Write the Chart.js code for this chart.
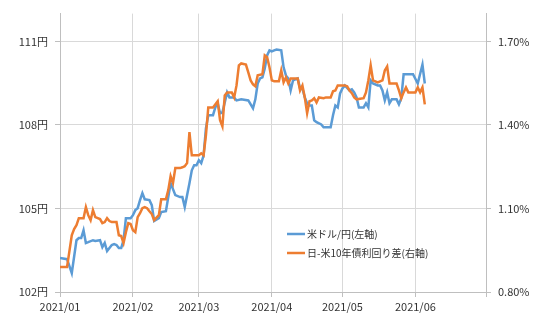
<!DOCTYPE html>
<html>
<head>
<meta charset="utf-8">
<script src="https://cdn.jsdelivr.net/npm/chart.js@4.4.1/dist/chart.umd.min.js"></script>
<style>
    html, body { margin: 0; padding: 0; background: #fff; }
</style>
</head>
<body>
<canvas id="chart" width="540" height="324"></canvas>
<script>
// x values are days counted from 2021/01/01
const usdDays = [0, 3, 5, 7, 8, 9, 10, 11, 12, 14, 15, 17, 18, 19, 20, 22, 23, 24, 25, 26, 27, 28, 30, 31, 32, 33, 34, 35, 36, 38, 39, 40, 42, 43, 45, 47, 49, 51, 52, 53, 55, 56, 57, 58, 59, 60, 61, 62, 63, 65, 66, 67, 68, 69, 71, 72, 74, 75, 77, 80, 82, 83, 84, 85, 86, 87, 88, 89, 90, 91, 92, 94, 95, 96, 97, 98, 99, 101, 102, 103, 104, 105, 106, 107, 108, 109, 111, 112, 115, 116, 117, 118, 119, 120, 121, 123, 124, 125, 126, 127, 129, 130, 131, 132, 133, 135, 136, 137, 138, 139, 140, 141, 143, 144, 145, 146, 149, 150, 152, 154, 155];
const usdValues = [103.22, 103.18, 102.68, 103.86, 103.94, 103.94, 104.22, 103.76, 103.79, 103.86, 103.83, 103.86, 103.61, 103.76, 103.47, 103.69, 103.72, 103.69, 103.58, 103.58, 103.86, 104.65, 104.65, 104.76, 104.94, 105.01, 105.3, 105.55, 105.33, 105.3, 105.12, 104.55, 104.65, 104.87, 104.9, 105.91, 105.48, 105.41, 105.41, 105.05, 105.91, 106.37, 106.55, 106.55, 106.73, 106.63, 106.9, 107.88, 108.35, 108.35, 108.63, 108.78, 108.42, 108.45, 109.17, 108.99, 108.99, 108.88, 108.92, 108.88, 108.6, 108.92, 109.49, 109.67, 109.71, 110.03, 110.5, 110.68, 110.64, 110.68, 110.71, 110.68, 110.07, 109.78, 109.67, 109.24, 109.6, 109.67, 109.31, 109.31, 108.99, 108.78, 108.7, 108.7, 108.17, 108.1, 108.02, 107.92, 107.92, 108.35, 108.7, 108.63, 109.13, 109.31, 109.42, 109.24, 109.28, 109.17, 108.99, 108.63, 108.63, 108.78, 108.63, 109.6, 109.49, 109.42, 109.42, 109.24, 108.88, 109.17, 108.78, 108.92, 108.92, 108.74, 108.96, 109.82, 109.82, 109.82, 109.49, 110.17, 109.49];

const spreadDays = [0, 3, 5, 6, 7, 8, 10, 11, 12, 13, 14, 15, 17, 18, 19, 20, 21, 22, 24, 25, 26, 27, 28, 29, 30, 31, 32, 33, 34, 35, 36, 37, 38, 39, 40, 42, 43, 45, 46, 47, 48, 49, 51, 52, 53, 54, 55, 56, 57, 59, 60, 61, 62, 63, 65, 67, 68, 69, 70, 71, 73, 74, 75, 76, 77, 79, 80, 81, 82, 83, 84, 86, 87, 88, 89, 90, 91, 93, 94, 95, 96, 97, 98, 101, 102, 103, 104, 105, 106, 107, 108, 109, 110, 112, 113, 115, 116, 117, 118, 121, 122, 123, 124, 125, 126, 129, 130, 131, 132, 133, 135, 137, 138, 139, 140, 143, 144, 145, 146, 147, 148, 151, 152, 153, 154, 155];
const spreadValues = [0.89, 0.89, 1.004, 1.026, 1.04, 1.065, 1.065, 1.105, 1.076, 1.058, 1.094, 1.069, 1.062, 1.047, 1.051, 1.065, 1.055, 1.051, 1.051, 1.004, 1.001, 0.976, 1.015, 1.047, 1.044, 1.022, 1.015, 1.069, 1.083, 1.101, 1.105, 1.101, 1.09, 1.08, 1.058, 1.076, 1.133, 1.133, 1.166, 1.216, 1.191, 1.245, 1.245, 1.248, 1.252, 1.263, 1.374, 1.291, 1.291, 1.291, 1.298, 1.291, 1.363, 1.463, 1.463, 1.485, 1.417, 1.395, 1.506, 1.517, 1.517, 1.499, 1.542, 1.614, 1.621, 1.617, 1.589, 1.56, 1.546, 1.539, 1.578, 1.582, 1.65, 1.643, 1.607, 1.56, 1.557, 1.557, 1.596, 1.553, 1.571, 1.549, 1.567, 1.567, 1.524, 1.542, 1.499, 1.442, 1.485, 1.488, 1.496, 1.481, 1.499, 1.496, 1.499, 1.499, 1.521, 1.524, 1.542, 1.542, 1.539, 1.524, 1.514, 1.499, 1.492, 1.496, 1.517, 1.56, 1.614, 1.56, 1.553, 1.56, 1.596, 1.61, 1.549, 1.549, 1.524, 1.496, 1.517, 1.535, 1.517, 1.517, 1.535, 1.517, 1.535, 1.474];

const monthStarts = [0, 31, 59, 90, 120, 151, 181];
const monthLabels = ['2021/01', '2021/02', '2021/03', '2021/04', '2021/05', '2021/06', ''];
const yenTicks = [102, 105, 108, 111];
const pctTicks = [0.8, 1.1, 1.4, 1.7];

const seriesNames = ['米ドル/円(左軸)', '日-米10年債利回り差(右軸)'];

const gridColor = '#d9d9d9';
const axisColor = '#bfbfbf';
const textColor = '#333333';

Chart.defaults.font.family = '"Noto Sans CJK JP", "Noto Sans", sans-serif';
Chart.defaults.font.size = 11;
Chart.defaults.color = textColor;

function toPoints(days, values) {
    return days.map((d, i) => ({ x: d, y: values[i] }));
}

// legend drawn inside the plot area
const insideLegend = {
    id: 'insideLegend',
    afterDraw(chart) {
        const ctx = chart.ctx;
        const x = 287;
        ctx.save();
        ctx.font = '10px "Noto Sans CJK JP", sans-serif';
        ctx.textBaseline = 'middle';
        chart.data.datasets.forEach((ds, i) => {
            const y = 234 + i * 19;
            ctx.strokeStyle = ds.borderColor;
            ctx.lineWidth = 2.5;
            ctx.beginPath();
            ctx.moveTo(x, y);
            ctx.lineTo(x + 18, y);
            ctx.stroke();
            ctx.fillStyle = textColor;
            ctx.fillText(ds.label, x + 20, y);
        });
        ctx.restore();
    }
};

new Chart(document.getElementById('chart'), {
    type: 'line',
    data: {
        datasets: [
            {
                label: seriesNames[0],
                data: toPoints(usdDays, usdValues),
                yAxisID: 'y',
                borderColor: '#5b9bd5',
                borderWidth: 2.5,
                pointRadius: 0,
                tension: 0,
                order: 1
            },
            {
                label: seriesNames[1],
                data: toPoints(spreadDays, spreadValues),
                yAxisID: 'y1',
                borderColor: '#ed7d31',
                borderWidth: 2.5,
                pointRadius: 0,
                tension: 0,
                order: 0
            }
        ]
    },
    options: {
        responsive: false,
        animation: false,
        layout: { padding: { top: 13, left: 0, right: 0, bottom: 0 } },
        plugins: {
            legend: { display: false },
            tooltip: { enabled: false }
        },
        scales: {
            x: {
                type: 'linear',
                min: 0,
                max: 181,
                afterBuildTicks: scale => { scale.ticks = monthStarts.map(v => ({ value: v })); },
                afterFit: scale => { scale.height = 32; },
                ticks: {
                    autoSkip: false,
                    maxRotation: 0,
                    padding: 3,
                    callback: (v, i) => monthLabels[i]
                },
                grid: { color: gridColor, tickColor: axisColor, tickLength: 5 },
                border: { color: axisColor }
            },
            y: {
                position: 'left',
                min: 102,
                max: 112,
                afterBuildTicks: scale => { scale.ticks = yenTicks.map(v => ({ value: v })); },
                afterFit: scale => { scale.width = 60; },
                ticks: { padding: 7, callback: v => v + '円' },
                grid: { color: gridColor, tickColor: axisColor, tickLength: 5 },
                border: { color: axisColor }
            },
            y1: {
                position: 'right',
                min: 0.8,
                max: 1.8,
                afterBuildTicks: scale => { scale.ticks = pctTicks.map(v => ({ value: v })); },
                afterFit: scale => { scale.width = 54; },
                ticks: { padding: 7, callback: v => v.toFixed(2) + '%' },
                grid: { drawOnChartArea: false, tickColor: axisColor, tickLength: 5 },
                border: { color: axisColor }
            }
        }
    },
    plugins: [insideLegend]
});
</script>
</body>
</html>
